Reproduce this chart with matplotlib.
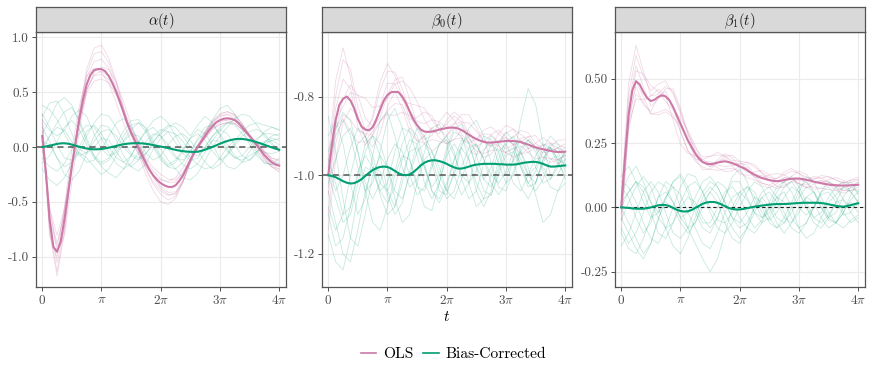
"""Simulation curves: OLS vs bias-corrected estimates of alpha(t), beta0(t), beta1(t)."""

import matplotlib
matplotlib.use("Agg")
import matplotlib.pyplot as plt
import numpy as np
from matplotlib.lines import Line2D

plt.rcParams['font.family'] = ['cmr10', 'DejaVu Serif']
plt.rcParams['mathtext.fontset'] = 'cm'
plt.rcParams['axes.unicode_minus'] = False

OLS_COLOR = '#CC79A7'
BC_COLOR = '#009E73'

# ---------------------------------------------------------------------------
# Data.
# Mean curves on a pi/16 grid, replicate curves on a pi/8 grid.
# OLS replicates are stored as deviations from the OLS mean.
# ---------------------------------------------------------------------------

t_mean = np.linspace(0, 4 * np.pi, 65)
t_rep = np.linspace(0, 4 * np.pi, 33)

alpha_ols_mean = [
    0.10, -0.23, -0.66, -0.91, -0.955, -0.86, -0.66, -0.42, -0.18, 0.04,
    0.25, 0.43, 0.57, 0.655, 0.70, 0.71, 0.71, 0.69, 0.645, 0.58,
    0.50, 0.41, 0.31, 0.21, 0.13, 0.06, -0.01, -0.08, -0.15, -0.21,
    -0.26, -0.30, -0.33, -0.35, -0.363, -0.365, -0.35, -0.31, -0.26, -0.19,
    -0.12, -0.05, 0.0, 0.05, 0.10, 0.15, 0.19, 0.225, 0.245, 0.258,
    0.262, 0.257, 0.245, 0.218, 0.18, 0.14, 0.10, 0.06, 0.015, -0.03,
    -0.075, -0.11, -0.14, -0.16, -0.17]
alpha_bc_mean = [
    0.0, 0.005, 0.012, 0.02, 0.028, 0.033, 0.034, 0.03, 0.022, 0.012,
    0.002, -0.007, -0.014, -0.019, -0.021, -0.021, -0.018, -0.013, -0.006, 0.002,
    0.01, 0.018, 0.025, 0.03, 0.033, 0.035, 0.035, 0.033, 0.029, 0.024,
    0.017, 0.01, 0.004, -0.003, -0.01, -0.018, -0.026, -0.033, -0.038, -0.042,
    -0.044, -0.045, -0.043, -0.035, -0.024, -0.012, 0.001, 0.015, 0.03, 0.043,
    0.055, 0.064, 0.071, 0.074, 0.073, 0.069, 0.062, 0.053, 0.043, 0.032,
    0.02, 0.008, -0.004, -0.015, -0.025]

beta0_ols_mean = [
    -1.0, -0.924, -0.86, -0.821, -0.806, -0.80, -0.81, -0.83, -0.857, -0.876,
    -0.884, -0.886, -0.878, -0.858, -0.834, -0.81, -0.796, -0.789, -0.788, -0.789,
    -0.80, -0.817, -0.838, -0.858, -0.873, -0.884, -0.889, -0.89, -0.889, -0.887,
    -0.884, -0.882, -0.88, -0.879, -0.879, -0.881, -0.885, -0.891, -0.897, -0.903,
    -0.908, -0.912, -0.915, -0.917, -0.917, -0.916, -0.915, -0.914, -0.913, -0.913,
    -0.913, -0.914, -0.916, -0.919, -0.922, -0.926, -0.929, -0.932, -0.934, -0.936,
    -0.938, -0.94, -0.941, -0.941, -0.94]
beta0_bc_mean = [
    -1.0, -1.002, -1.005, -1.01, -1.015, -1.019, -1.021, -1.02, -1.016, -1.01,
    -1.002, -0.994, -0.987, -0.982, -0.979, -0.978, -0.979, -0.983, -0.989, -0.995,
    -0.999, -1.0, -0.998, -0.992, -0.984, -0.975, -0.968, -0.964, -0.962, -0.962,
    -0.964, -0.967, -0.971, -0.976, -0.98, -0.983, -0.983, -0.981, -0.978, -0.975,
    -0.973, -0.972, -0.971, -0.971, -0.971, -0.971, -0.972, -0.972, -0.973, -0.973,
    -0.973, -0.972, -0.97, -0.968, -0.967, -0.966, -0.966, -0.968, -0.971, -0.975,
    -0.978, -0.978, -0.977, -0.976, -0.975]

beta1_ols_mean = [
    0.0, 0.19, 0.36, 0.455, 0.49, 0.477, 0.448, 0.425, 0.413, 0.418,
    0.429, 0.435, 0.431, 0.416, 0.39, 0.357, 0.325, 0.293, 0.26, 0.234,
    0.209, 0.189, 0.176, 0.17, 0.168, 0.17, 0.174, 0.177, 0.179, 0.176,
    0.172, 0.166, 0.159, 0.153, 0.145, 0.135, 0.127, 0.12, 0.114, 0.11,
    0.106, 0.103, 0.102, 0.103, 0.106, 0.109, 0.111, 0.112, 0.112, 0.11,
    0.107, 0.104, 0.1, 0.097, 0.094, 0.091, 0.089, 0.087, 0.086, 0.085,
    0.085, 0.085, 0.086, 0.087, 0.088]
beta1_bc_mean = [
    0.0, -0.001, -0.002, -0.004, -0.005, -0.005, -0.005, -0.003, 0.0, 0.004,
    0.008, 0.01, 0.009, 0.005, -0.002, -0.009, -0.014, -0.016, -0.015, -0.01,
    -0.002, 0.006, 0.014, 0.019, 0.021, 0.021, 0.018, 0.012, 0.005, -0.002,
    -0.006, -0.008, -0.008, -0.006, -0.003, 0.0, 0.003, 0.005, 0.007, 0.009,
    0.011, 0.012, 0.013, 0.013, 0.013, 0.014, 0.015, 0.016, 0.017, 0.018,
    0.018, 0.018, 0.018, 0.018, 0.017, 0.015, 0.012, 0.009, 0.006, 0.004,
    0.003, 0.005, 0.009, 0.013, 0.016]

alpha_ols_dev = [
    [0.15, -0.08, -0.18, -0.08, 0.0, 0.04, 0.10, 0.15, 0.16, 0.12, 0.08, 0.04, 0.0, -0.02, -0.05, -0.08, -0.10, -0.12, -0.10, -0.06, -0.02, 0.0, 0.02, 0.04, 0.05, 0.06, 0.05, 0.03, 0.01, -0.01, -0.03, -0.04, -0.05],
    [-0.08, 0.10, 0.15, 0.10, 0.02, -0.04, -0.08, -0.10, -0.09, -0.06, -0.03, 0.0, 0.02, 0.04, 0.05, 0.07, 0.08, 0.07, 0.05, 0.03, 0.01, -0.01, -0.02, -0.03, -0.04, -0.04, -0.03, -0.02, 0.0, 0.02, 0.03, 0.04, 0.05],
    [0.20, -0.15, -0.05, 0.12, 0.15, 0.12, 0.08, 0.02, -0.03, -0.07, -0.10, -0.10, -0.08, -0.05, -0.03, 0.0, 0.03, 0.05, 0.07, 0.07, 0.05, 0.02, 0.0, -0.02, -0.04, -0.04, -0.03, -0.02, 0.0, 0.02, 0.04, 0.04, 0.04],
    [-0.05, 0.12, 0.0, -0.15, -0.14, -0.10, -0.06, -0.02, 0.02, 0.06, 0.09, 0.10, 0.08, 0.05, 0.02, -0.02, -0.05, -0.07, -0.08, -0.06, -0.03, 0.0, 0.03, 0.04, 0.04, 0.03, 0.02, 0.0, -0.02, -0.04, -0.05, -0.04, -0.03],
    [0.05, -0.12, -0.22, -0.12, 0.0, 0.06, 0.14, 0.20, 0.22, 0.16, 0.10, 0.04, -0.02, -0.06, -0.10, -0.14, -0.17, -0.16, -0.12, -0.06, 0.0, 0.02, 0.04, 0.05, 0.06, 0.06, 0.05, 0.03, 0.01, -0.01, -0.03, -0.04, -0.06],
    [0.0, 0.05, 0.08, 0.05, 0.01, -0.02, -0.04, -0.05, -0.05, -0.03, -0.01, 0.01, 0.02, 0.02, 0.03, 0.04, 0.04, 0.04, 0.03, 0.02, 0.0, -0.01, -0.02, -0.02, -0.02, -0.01, 0.0, 0.0, 0.01, 0.01, 0.02, 0.02, 0.02],
    [0.12, -0.04, -0.10, -0.06, 0.02, 0.05, 0.06, 0.08, 0.09, 0.07, 0.04, 0.01, -0.01, -0.03, -0.05, -0.06, -0.07, -0.08, -0.07, -0.04, -0.01, 0.01, 0.02, 0.03, 0.03, 0.04, 0.04, 0.03, 0.01, 0.0, -0.01, -0.02, -0.03],
    [-0.02, 0.0, 0.05, 0.08, 0.06, 0.0, -0.05, -0.04, -0.02, 0.0, 0.02, 0.04, 0.05, 0.04, 0.02, 0.0, -0.03, -0.05, -0.06, -0.05, -0.02, 0.01, 0.03, 0.02, 0.0, -0.02, -0.03, -0.02, 0.0, 0.02, 0.03, 0.02, 0.0],
]
alpha_bc_reps = [
    [0.38, 0.34, 0.25, 0.12, 0.0, -0.08, -0.05, 0.05, 0.14, 0.16, 0.10, 0.0, -0.08, -0.12, -0.06, 0.04, 0.14, 0.20, 0.18, 0.10, 0.0, -0.05, 0.0, 0.10, 0.18, 0.22, 0.20, 0.12, 0.05, 0.02, 0.05, 0.08, 0.06],
    [-0.10, -0.18, -0.22, -0.15, -0.02, 0.12, 0.20, 0.18, 0.08, -0.05, -0.15, -0.20, -0.15, -0.05, 0.05, 0.12, 0.10, 0.02, -0.08, -0.16, -0.20, -0.15, -0.05, 0.06, 0.15, 0.22, 0.25, 0.20, 0.10, 0.0, -0.05, -0.06, -0.04],
    [0.12, 0.25, 0.40, 0.45, 0.38, 0.22, 0.05, -0.08, -0.14, -0.10, 0.02, 0.15, 0.24, 0.25, 0.16, 0.02, -0.10, -0.18, -0.20, -0.14, -0.04, 0.06, 0.14, 0.25, 0.35, 0.38, 0.30, 0.16, 0.02, -0.08, -0.14, -0.16, -0.15],
    [0.05, 0.02, -0.10, -0.25, -0.30, -0.22, -0.06, 0.10, 0.20, 0.18, 0.06, -0.08, -0.18, -0.22, -0.15, -0.02, 0.08, 0.14, 0.12, 0.05, -0.05, -0.08, -0.02, 0.06, 0.05, -0.04, -0.10, -0.08, 0.0, 0.08, 0.12, 0.12, 0.10],
    [0.25, 0.15, 0.10, 0.15, 0.28, 0.34, 0.28, 0.12, -0.02, -0.08, -0.05, 0.06, 0.16, 0.22, 0.18, 0.05, -0.08, -0.16, -0.12, -0.02, 0.08, 0.12, 0.06, -0.04, -0.12, -0.08, 0.02, 0.08, 0.05, -0.05, -0.15, -0.16, -0.10],
    [-0.05, 0.10, 0.22, 0.32, 0.36, 0.25, 0.08, -0.08, -0.18, -0.24, -0.28, -0.20, -0.08, 0.05, 0.15, 0.24, 0.28, 0.22, 0.10, -0.02, -0.10, -0.16, -0.20, -0.18, -0.10, 0.0, 0.06, 0.14, 0.20, 0.22, 0.20, 0.18, 0.15],
    [0.30, 0.18, 0.02, -0.10, -0.12, -0.04, 0.10, 0.22, 0.30, 0.28, 0.18, 0.05, -0.06, -0.10, -0.06, 0.02, -0.02, -0.12, -0.20, -0.28, -0.30, -0.24, -0.12, 0.0, 0.10, 0.18, 0.26, 0.30, 0.28, 0.20, 0.10, 0.02, -0.02],
    [-0.20, -0.30, -0.35, -0.28, -0.15, -0.05, -0.10, -0.18, -0.25, -0.20, -0.08, 0.05, 0.12, 0.10, 0.02, 0.05, 0.12, 0.18, 0.22, 0.18, 0.10, 0.20, 0.28, 0.22, 0.10, -0.02, -0.10, -0.12, -0.08, -0.04, 0.02, 0.06, 0.08],
    [0.0, 0.10, 0.18, 0.15, 0.05, -0.06, -0.14, -0.12, -0.02, 0.10, 0.22, 0.26, 0.18, 0.05, -0.06, -0.12, -0.08, 0.02, 0.10, 0.12, 0.06, -0.04, -0.14, -0.20, -0.16, -0.06, 0.04, 0.10, 0.14, 0.16, 0.12, 0.04, -0.04],
    [0.18, 0.05, -0.10, -0.18, -0.14, 0.0, 0.14, 0.20, 0.12, 0.0, -0.10, -0.14, -0.08, 0.04, 0.14, 0.18, 0.10, -0.02, -0.10, -0.12, -0.04, 0.08, 0.18, 0.20, 0.12, 0.02, -0.08, -0.14, -0.12, -0.04, 0.04, 0.06, 0.02],
    [-0.15, -0.08, 0.05, 0.18, 0.24, 0.16, 0.02, -0.10, -0.16, -0.12, -0.02, 0.10, 0.20, 0.22, 0.14, 0.0, -0.12, -0.18, -0.14, -0.04, 0.08, 0.16, 0.12, 0.02, -0.10, -0.18, -0.20, -0.14, -0.04, 0.06, 0.14, 0.18, 0.16],
    [0.28, 0.40, 0.42, 0.30, 0.12, -0.02, -0.06, 0.0, 0.08, 0.06, -0.04, -0.14, -0.18, -0.12, 0.0, 0.10, 0.16, 0.14, 0.04, -0.06, -0.12, -0.10, 0.0, 0.10, 0.16, 0.12, 0.02, -0.08, -0.12, -0.06, 0.04, 0.10, 0.12],
]

beta0_ols_dev = [
    [0.02, 0.06, 0.10, 0.08, 0.03, 0.0, 0.02, 0.05, 0.06, 0.05, 0.02, 0.0, 0.01, 0.02, 0.03, 0.02, 0.0, 0.01, 0.02, 0.03, 0.02, 0.0, -0.01, 0.0, 0.02, 0.03, 0.02, 0.01, 0.0, 0.01, 0.02, 0.02, 0.01],
    [-0.10, -0.06, -0.04, -0.05, -0.03, -0.01, -0.02, -0.03, -0.04, -0.03, -0.02, -0.03, -0.04, -0.03, -0.02, -0.03, -0.04, -0.03, -0.02, -0.02, -0.03, -0.03, -0.02, -0.02, -0.03, -0.02, -0.01, -0.02, -0.03, -0.02, -0.02, -0.03, -0.02],
    [0.04, 0.10, 0.13, 0.06, 0.0, -0.02, 0.03, 0.07, 0.08, 0.04, 0.0, -0.02, 0.02, 0.05, 0.04, 0.0, -0.02, 0.01, 0.04, 0.05, 0.03, 0.0, -0.01, 0.02, 0.04, 0.03, 0.0, -0.01, 0.01, 0.03, 0.02, 0.0, 0.01],
    [-0.14, -0.10, -0.06, -0.02, 0.01, -0.02, -0.05, -0.06, -0.03, 0.0, -0.03, -0.05, -0.04, -0.01, 0.01, -0.02, -0.04, -0.03, 0.0, 0.01, -0.02, -0.04, -0.03, 0.0, 0.01, -0.01, -0.03, -0.02, 0.0, 0.0, -0.02, -0.02, -0.01],
    [0.0, 0.03, 0.05, 0.03, -0.02, -0.04, -0.02, 0.01, 0.03, 0.02, -0.01, 0.02, 0.05, 0.06, 0.03, 0.0, 0.01, 0.03, 0.02, -0.01, -0.02, 0.0, 0.02, 0.03, 0.01, -0.01, 0.0, 0.02, 0.03, 0.01, 0.0, 0.01, 0.02],
    [-0.05, -0.03, 0.0, 0.04, 0.06, 0.03, 0.0, -0.02, 0.0, 0.03, 0.05, 0.03, 0.0, -0.02, -0.01, 0.02, 0.04, 0.02, -0.01, -0.02, 0.0, 0.02, 0.02, 0.0, -0.02, -0.01, 0.01, 0.02, 0.0, -0.01, 0.0, 0.01, 0.0],
    [0.03, 0.0, -0.02, 0.02, 0.06, 0.08, 0.05, 0.01, -0.01, 0.02, 0.04, 0.06, 0.06, 0.03, 0.0, -0.01, 0.02, 0.04, 0.03, 0.0, 0.0, 0.03, 0.04, 0.02, 0.0, 0.01, 0.03, 0.03, 0.01, 0.0, 0.01, 0.03, 0.03],
    [-0.03, -0.02, -0.05, -0.08, -0.06, -0.03, -0.01, -0.03, -0.05, -0.06, -0.04, -0.01, -0.01, -0.03, -0.05, -0.04, -0.02, 0.0, -0.02, -0.04, -0.04, -0.02, 0.0, -0.01, -0.03, -0.04, -0.03, -0.01, 0.0, -0.02, -0.03, -0.02, -0.01],
]
beta0_bc_reps = [
    [-0.96, -1.02, -1.10, -1.08, -1.00, -0.92, -0.90, -0.95, -1.04, -1.08, -1.02, -0.93, -0.88, -0.90, -0.97, -1.04, -1.05, -0.99, -0.92, -0.90, -0.95, -1.01, -1.03, -0.98, -0.92, -0.90, -0.94, -1.00, -1.02, -0.97, -0.93, -0.94, -0.98],
    [-1.15, -1.22, -1.24, -1.16, -1.05, -0.98, -0.99, -1.04, -1.02, -0.94, -0.88, -0.89, -0.95, -1.02, -1.06, -1.02, -0.94, -0.89, -0.90, -0.96, -1.04, -1.08, -1.04, -0.96, -0.91, -0.92, -0.98, -1.03, -1.02, -0.96, -0.93, -0.96, -1.01],
    [-0.90, -0.86, -0.92, -1.02, -1.10, -1.06, -0.95, -0.86, -0.84, -0.90, -0.98, -1.03, -1.01, -0.94, -0.88, -0.87, -0.92, -1.00, -1.05, -1.02, -0.95, -0.90, -0.91, -0.97, -1.02, -1.00, -0.94, -0.91, -0.93, -0.98, -1.01, -0.98, -0.94],
    [-1.02, -0.96, -0.90, -0.88, -0.94, -1.04, -1.12, -1.14, -1.08, -1.00, -0.95, -0.96, -1.02, -1.08, -1.09, -1.02, -0.95, -0.92, -0.95, -1.02, -1.08, -1.06, -1.00, -0.94, -0.92, -0.96, -1.03, -1.06, -1.02, -0.96, -0.92, -0.93, -0.96],
    [-0.85, -0.94, -1.06, -1.16, -1.18, -1.10, -1.00, -0.95, -0.98, -1.06, -1.12, -1.10, -1.02, -0.96, -0.94, -0.98, -1.04, -1.06, -1.01, -0.95, -0.92, -0.96, -1.02, -1.05, -1.02, -0.96, -0.94, -0.98, -1.05, -1.12, -1.10, -1.04, -1.00],
    [-1.08, -1.14, -1.10, -1.00, -0.92, -0.90, -0.95, -1.02, -1.04, -0.99, -0.92, -0.88, -0.90, -0.97, -1.04, -1.07, -1.03, -0.96, -0.91, -0.92, -0.98, -1.04, -1.05, -1.00, -0.95, -0.94, -0.98, -1.02, -0.99, -0.94, -0.93, -0.96, -0.97],
    [-0.98, -0.90, -0.86, -0.90, -0.98, -1.04, -1.02, -0.94, -0.86, -0.83, -0.88, -0.96, -1.03, -1.04, -0.98, -0.92, -0.90, -0.94, -1.01, -1.06, -1.04, -0.97, -0.92, -0.94, -1.00, -0.96, -0.86, -0.78, -0.82, -0.92, -1.00, -1.00, -0.96],
    [-1.04, -1.12, -1.20, -1.22, -1.14, -1.04, -0.98, -0.99, -1.05, -1.10, -1.07, -0.99, -0.92, -0.90, -0.94, -1.00, -1.04, -1.00, -0.93, -0.88, -0.86, -0.90, -0.97, -1.03, -1.04, -0.99, -0.93, -0.91, -0.94, -0.99, -1.03, -1.04, -1.02],
    [-1.00, -1.06, -1.12, -1.10, -1.02, -0.94, -0.90, -0.92, -0.98, -1.04, -1.06, -1.00, -0.94, -0.92, -0.96, -1.02, -1.06, -1.04, -0.98, -0.93, -0.92, -0.96, -1.00, -1.02, -0.99, -0.94, -0.91, -0.93, -0.98, -1.02, -1.01, -0.97, -0.94],
    [-0.94, -0.88, -0.84, -0.86, -0.94, -1.02, -1.06, -1.02, -0.96, -0.92, -0.94, -1.00, -1.05, -1.03, -0.97, -0.92, -0.91, -0.95, -1.00, -1.02, -0.99, -0.94, -0.90, -0.92, -0.97, -1.02, -1.04, -1.00, -0.95, -0.92, -0.93, -0.97, -1.00],
    [-1.10, -1.18, -1.16, -1.08, -0.99, -0.95, -0.98, -1.05, -1.10, -1.08, -1.00, -0.94, -0.93, -0.98, -1.04, -1.06, -1.02, -0.96, -0.93, -0.96, -1.02, -1.06, -1.05, -0.99, -0.94, -0.93, -0.97, -1.02, -1.04, -1.01, -0.96, -0.95, -0.99],
    [-0.98, -1.04, -1.00, -0.93, -0.88, -0.90, -0.97, -1.04, -1.07, -1.03, -0.96, -0.91, -0.92, -0.98, -1.03, -1.00, -0.93, -0.88, -0.87, -0.92, -0.98, -1.01, -0.98, -0.92, -0.89, -0.91, -0.96, -1.00, -0.98, -0.93, -0.90, -0.92, -0.95],
]

beta1_ols_dev = [
    [0.02, 0.08, 0.10, 0.06, 0.04, 0.05, 0.06, 0.05, 0.04, 0.03, 0.02, 0.02, 0.03, 0.03, 0.02, 0.01, 0.02, 0.03, 0.03, 0.02, 0.01, 0.01, 0.02, 0.03, 0.02, 0.01, 0.01, 0.02, 0.03, 0.02, 0.01, 0.01, 0.02],
    [-0.05, -0.06, -0.05, -0.04, -0.05, -0.06, -0.05, -0.03, -0.03, -0.04, -0.03, -0.02, -0.02, -0.03, -0.03, -0.02, -0.02, -0.03, -0.02, -0.02, -0.02, -0.03, -0.02, -0.01, -0.02, -0.03, -0.02, -0.02, -0.02, -0.02, -0.03, -0.02, -0.02],
    [0.04, 0.12, 0.14, 0.08, 0.02, 0.01, 0.04, 0.06, 0.05, 0.02, 0.0, 0.01, 0.03, 0.04, 0.02, 0.0, 0.01, 0.03, 0.04, 0.02, 0.0, 0.01, 0.03, 0.04, 0.02, 0.0, 0.01, 0.03, 0.03, 0.02, 0.01, 0.02, 0.03],
    [-0.10, -0.04, 0.0, -0.02, -0.05, -0.07, -0.06, -0.04, -0.01, 0.0, -0.02, -0.03, -0.02, 0.0, 0.01, -0.01, -0.03, -0.02, 0.0, 0.01, 0.0, -0.02, -0.03, -0.01, 0.0, -0.01, -0.03, -0.02, 0.0, 0.0, -0.02, -0.02, -0.01],
    [0.0, 0.02, 0.04, 0.07, 0.06, 0.02, -0.02, -0.01, 0.02, 0.04, 0.03, 0.0, -0.01, 0.01, 0.03, 0.02, 0.0, -0.01, 0.01, 0.03, 0.02, 0.0, -0.01, 0.01, 0.03, 0.02, 0.0, 0.0, 0.02, 0.03, 0.02, 0.0, 0.0],
    [-0.02, -0.04, -0.07, -0.03, 0.02, 0.03, 0.0, -0.05, -0.08, -0.05, -0.01, 0.01, 0.0, -0.02, -0.04, -0.03, 0.0, 0.01, -0.01, -0.03, -0.03, -0.01, 0.01, 0.0, -0.02, -0.03, -0.01, 0.01, 0.01, -0.01, -0.02, -0.01, 0.0],
    [0.01, 0.05, 0.06, 0.02, -0.02, -0.01, 0.03, 0.07, 0.06, 0.03, 0.01, 0.0, -0.01, 0.0, 0.02, 0.03, 0.02, 0.0, -0.01, 0.0, 0.02, 0.03, 0.02, 0.0, -0.01, 0.0, 0.02, 0.02, 0.01, 0.0, 0.01, 0.02, 0.02],
    [-0.03, -0.01, -0.02, -0.05, -0.04, 0.0, 0.02, 0.0, -0.03, -0.04, -0.02, 0.0, 0.01, -0.01, -0.02, -0.01, 0.01, 0.02, 0.0, -0.02, -0.02, 0.0, 0.01, 0.0, -0.02, -0.02, 0.0, 0.01, 0.0, -0.02, -0.01, 0.0, 0.01],
]
beta1_bc_reps = [
    [0.05, 0.12, 0.16, 0.10, 0.02, -0.02, 0.03, 0.10, 0.13, 0.08, 0.0, -0.06, -0.06, 0.0, 0.06, 0.08, 0.04, -0.03, -0.08, -0.05, 0.02, 0.08, 0.10, 0.06, 0.0, -0.03, 0.0, 0.06, 0.10, 0.08, 0.03, 0.0, 0.01],
    [-0.15, -0.10, -0.02, 0.06, 0.10, 0.06, -0.02, -0.10, -0.12, -0.08, 0.0, 0.06, 0.10, 0.08, 0.02, -0.04, -0.08, -0.06, 0.0, 0.06, 0.08, 0.04, -0.02, -0.08, -0.10, -0.06, 0.0, 0.05, 0.06, 0.02, -0.03, -0.02, 0.03],
    [0.0, -0.06, -0.12, -0.18, -0.14, -0.05, 0.04, 0.08, 0.05, -0.02, -0.08, -0.14, -0.16, -0.10, -0.02, 0.04, 0.06, 0.03, -0.02, -0.04, 0.0, 0.06, 0.10, 0.12, 0.08, 0.02, -0.04, -0.06, -0.03, 0.02, 0.03, -0.02, -0.06],
    [0.10, 0.08, 0.02, -0.06, -0.12, -0.14, -0.08, 0.0, 0.08, 0.13, 0.12, 0.06, -0.02, -0.08, -0.10, -0.06, 0.0, 0.06, 0.10, 0.08, 0.02, -0.04, -0.06, -0.02, 0.04, 0.08, 0.06, 0.0, -0.05, -0.06, -0.02, 0.03, 0.06],
    [-0.05, 0.02, 0.08, 0.12, 0.08, 0.0, -0.08, -0.15, -0.18, -0.12, -0.04, 0.04, 0.08, 0.05, -0.02, -0.08, -0.12, -0.08, -0.02, 0.04, 0.06, 0.02, -0.04, -0.06, -0.02, 0.04, 0.06, 0.02, -0.04, -0.06, -0.02, 0.05, 0.10],
    [0.08, 0.04, -0.04, -0.10, -0.06, 0.04, 0.10, 0.08, 0.0, -0.08, -0.14, -0.20, -0.25, -0.20, -0.10, 0.0, 0.06, 0.08, 0.04, -0.02, -0.05, -0.02, 0.04, 0.08, 0.06, 0.0, -0.06, -0.08, -0.04, 0.02, 0.08, 0.10, 0.05],
    [-0.10, -0.16, -0.18, -0.12, -0.04, 0.04, 0.06, 0.02, -0.04, -0.02, 0.04, 0.10, 0.12, 0.08, 0.02, -0.04, -0.06, -0.02, 0.04, 0.02, -0.04, -0.08, -0.06, 0.0, 0.06, 0.12, 0.10, 0.04, -0.02, -0.06, -0.08, -0.05, -0.03],
    [0.02, 0.06, 0.10, 0.06, -0.02, -0.10, -0.12, -0.06, 0.0, 0.04, 0.02, -0.04, -0.08, -0.04, 0.04, 0.12, 0.15, 0.10, 0.02, -0.04, -0.02, 0.04, 0.06, 0.0, -0.08, -0.12, -0.10, -0.04, 0.02, 0.05, 0.08, 0.06, 0.02],
    [0.0, 0.06, 0.10, 0.08, 0.02, -0.04, -0.08, -0.06, 0.02, 0.08, 0.10, 0.06, 0.0, -0.05, -0.06, -0.02, 0.04, 0.08, 0.06, 0.0, -0.06, -0.08, -0.04, 0.02, 0.08, 0.10, 0.06, 0.0, -0.04, -0.02, 0.04, 0.08, 0.06],
    [-0.08, -0.14, -0.10, -0.02, 0.06, 0.10, 0.08, 0.02, -0.04, -0.08, -0.06, 0.0, 0.06, 0.10, 0.08, 0.02, -0.04, -0.08, -0.10, -0.06, 0.0, 0.04, 0.02, -0.04, -0.08, -0.06, 0.0, 0.06, 0.08, 0.04, -0.02, -0.06, -0.04],
    [0.12, 0.16, 0.10, 0.02, -0.04, -0.02, 0.04, 0.10, 0.12, 0.06, -0.02, -0.08, -0.10, -0.04, 0.04, 0.10, 0.10, 0.04, -0.02, -0.06, -0.04, 0.02, 0.08, 0.10, 0.06, 0.0, -0.04, -0.02, 0.04, 0.08, 0.10, 0.06, 0.02],
    [-0.04, -0.10, -0.16, -0.20, -0.14, -0.04, 0.02, 0.0, -0.06, -0.10, -0.06, 0.02, 0.06, 0.02, -0.06, -0.12, -0.14, -0.08, 0.0, 0.04, 0.0, -0.06, -0.10, -0.06, 0.0, 0.04, 0.02, -0.04, -0.08, -0.06, 0.0, 0.02, -0.02],
]

panel_titles = [r'$\alpha(t)$', r'$\beta_0(t)$', r'$\beta_1(t)$']
true_values = [0.0, -1.0, 0.0]
y_ticks = [[-1.0, -0.5, 0.0, 0.5, 1.0], [-1.2, -1.0, -0.8], [-0.25, 0.0, 0.25, 0.5]]
y_ticklabels = [['-1.0', '-0.5', '0.0', '0.5', '1.0'], ['-1.2', '-1.0', '-0.8'],
                ['-0.25', '0.00', '0.25', '0.50']]
y_limits = [(-1.276, 1.048), (-1.284, -0.636), (-0.309, 0.681)]
x_ticks = [0, np.pi, 2 * np.pi, 3 * np.pi, 4 * np.pi]
x_ticklabels = [r'$0$', r'$\pi$', r'$2\pi$', r'$3\pi$', r'$4\pi$']

panels = [
    (alpha_ols_mean, alpha_bc_mean, alpha_ols_dev, alpha_bc_reps),
    (beta0_ols_mean, beta0_bc_mean, beta0_ols_dev, beta0_bc_reps),
    (beta1_ols_mean, beta1_bc_mean, beta1_ols_dev, beta1_bc_reps),
]
# dashed reference line differs slightly between panels
ref_styles = [('#555555', 1.1, (0, (4, 3))), ('#555555', 1.1, (0, (4, 3))),
              ('#222222', 0.8, (0, (3, 2.5)))]

# ---------------------------------------------------------------------------
# Figure
# ---------------------------------------------------------------------------

W, H = 872, 378
fig = plt.figure(figsize=(W / 100, H / 100), dpi=100)
lefts = [36, 322, 615]
ax_w, ax_top, ax_bot, strip_top = 250, 32, 287, 7

for i, (ols_mean, bc_mean, ols_dev, bc_reps) in enumerate(panels):
    ax = fig.add_axes([lefts[i] / W, 1 - ax_bot / H, ax_w / W, (ax_bot - ax_top) / H])
    strip = fig.add_axes([lefts[i] / W, 1 - ax_top / H, ax_w / W, (ax_top - strip_top) / H])

    ols_coarse = np.array(ols_mean)[::2]
    for dev in ols_dev:
        ax.plot(t_rep, ols_coarse + np.array(dev), color=OLS_COLOR, lw=0.6,
                alpha=0.28, zorder=2)
    for rep in bc_reps:
        ax.plot(t_rep, rep, color=BC_COLOR, lw=0.6, alpha=0.22, zorder=3)
    col, lw, ls = ref_styles[i]
    ax.axhline(true_values[i], color=col, lw=lw, ls=ls, zorder=4)
    ax.plot(t_mean, ols_mean, color=OLS_COLOR, lw=1.5, zorder=5)
    ax.plot(t_mean, bc_mean, color=BC_COLOR, lw=1.5, zorder=6)

    ax.set_xlim(-0.33, 4 * np.pi + 0.36)
    ax.set_ylim(*y_limits[i])
    ax.set_xticks(x_ticks)
    ax.set_xticklabels(x_ticklabels)
    ax.set_yticks(y_ticks[i])
    ax.set_yticklabels(y_ticklabels[i])
    ax.grid(True, color='#EBEBEB', lw=0.8, zorder=0)
    ax.set_axisbelow(True)
    ax.tick_params(colors='#333333', labelcolor='#4D4D4D', labelsize=9.5,
                   length=3, width=0.6, pad=2)
    for sp in ax.spines.values():
        sp.set_color('#555555')
        sp.set_linewidth(0.9)

    strip.set_facecolor('#D9D9D9')
    strip.set_xticks([])
    strip.set_yticks([])
    for sp in strip.spines.values():
        sp.set_color('#555555')
        sp.set_linewidth(0.9)
    strip.text(0.5, 0.45, panel_titles[i], ha='center', va='center',
               fontsize=10.5, color='#1A1A1A', transform=strip.transAxes)

    if i == 1:
        ax.set_xlabel(r'$t$', fontsize=11, labelpad=2)

legend_elements = [
    Line2D([0], [0], color=OLS_COLOR, lw=1.2, label='OLS'),
    Line2D([0], [0], color=BC_COLOR, lw=1.2, label='Bias-Corrected'),
]
fig.legend(handles=legend_elements, loc='center', bbox_to_anchor=(0.52, 1 - 354 / H),
           ncol=2, frameon=False, fontsize=11.2, handlelength=1.0,
           handletextpad=0.45, columnspacing=0.6)

fig.savefig('out.png', dpi=100)
